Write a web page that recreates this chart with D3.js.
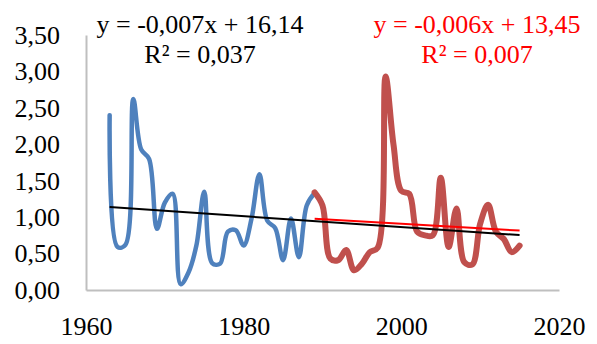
<!DOCTYPE html>
<html>
<head>
<meta charset="utf-8">
<script src="https://cdn.jsdelivr.net/npm/d3@7"></script>
<style>
  body { margin: 0; background: #fff; }
  text { font-family: "Liberation Serif", "Times New Roman", serif; }
</style>
</head>
<body>
<script>
// values
const blueYears = d3.range(1963, 1990);
const blueValues = [2.40, 0.59, 0.62, 2.62, 1.93, 1.80, 0.84, 1.20, 1.32, 0.08,
  0.24, 0.61, 1.35, 0.37, 0.36, 0.80, 0.82, 0.61, 0.98, 1.59,
  0.95, 0.85, 0.41, 0.98, 0.45, 1.16, 1.33];
const redYears = d3.range(1989, 2016);
const redValues = [1.34, 1.16, 0.43, 0.41, 0.55, 0.27, 0.36, 0.52, 0.58, 2.93,
  2.00, 1.36, 1.32, 0.80, 0.75, 0.75, 1.54, 0.59, 1.12, 0.38,
  0.35, 0.91, 1.17, 0.80, 0.70, 0.52, 0.61];
const xTicks = [1960, 1980, 2000, 2020];
const yTicks = [0, 0.5, 1, 1.5, 2, 2.5, 3, 3.5];
const allLabel = ['y = -0,007x + 16,14', 'R² = 0,037'];
const redLabel = ['y = -0,006x + 13,45', 'R² = 0,007'];

const width = 597, height = 344;
const svg = d3.select('body').append('svg')
  .attr('width', width)
  .attr('height', height);

const x = d3.scaleLinear().domain([1960, 2020]).range([86, 559]);
const y = d3.scaleLinear().domain([0, 3.5]).range([290, 35]);

const fmt = v => d3.format('.2f')(v).replace('.', ',');

// axes
const yAxis = svg.append('g')
  .attr('transform', 'translate(86,0)')
  .call(d3.axisLeft(y).tickValues(yTicks).tickFormat(fmt).tickSize(0).tickPadding(26));
yAxis.select('.domain').attr('stroke', '#bfbfbf').attr('stroke-width', 2);
yAxis.selectAll('.tick text').style('font-size', '26px').attr('fill', '#000');

const xAxis = svg.append('g')
  .attr('transform', 'translate(0,290)')
  .call(d3.axisBottom(x).tickValues(xTicks).tickFormat(d3.format('d')).tickSize(0).tickPadding(27));
xAxis.select('.domain').attr('stroke', '#bfbfbf').attr('stroke-width', 2);
xAxis.selectAll('.tick text').style('font-size', '26px').attr('fill', '#000');

// series
const blueData = blueYears.map((yr, i) => [yr, blueValues[i]]);
const redData = redYears.map((yr, i) => [yr, redValues[i]]);

const line = d3.line()
  .x(d => x(d[0]))
  .y(d => y(d[1]))
  .curve(d3.curveCatmullRom.alpha(0.5));

svg.append('path').datum(blueData)
  .attr('d', line)
  .attr('fill', 'none')
  .attr('stroke', '#4f81bd')
  .attr('stroke-width', 4.5)
  .attr('stroke-linejoin', 'round')
  .attr('stroke-linecap', 'round');

svg.append('path').datum(redData)
  .attr('d', line)
  .attr('fill', 'none')
  .attr('stroke', '#c0504d')
  .attr('stroke-width', 6)
  .attr('stroke-linejoin', 'round')
  .attr('stroke-linecap', 'round');

// linear trend lines
function fit(data) {
  const mx = d3.mean(data, d => d[0]);
  const my = d3.mean(data, d => d[1]);
  const b = d3.sum(data, d => (d[0] - mx) * (d[1] - my)) / d3.sum(data, d => (d[0] - mx) ** 2);
  const a = my - b * mx;
  const x0 = d3.min(data, d => d[0]), x1 = d3.max(data, d => d[0]);
  return [[x0, a + b * x0], [x1, a + b * x1]];
}

const allData = blueData.concat(redData.slice(1));
const straight = d3.line().x(d => x(d[0])).y(d => y(d[1]));

svg.append('path').datum(fit(allData))
  .attr('d', straight)
  .attr('stroke', '#000')
  .attr('stroke-width', 2);

svg.append('path').datum(fit(redData))
  .attr('d', straight)
  .attr('stroke', '#ff0000')
  .attr('stroke-width', 2);

// equation labels
function label(lines, cx, color) {
  const t = svg.append('text')
    .attr('text-anchor', 'middle')
    .attr('fill', color)
    .style('font-size', '26px');
  lines.forEach((s, i) => {
    t.append('tspan').attr('x', cx).attr('y', 33 + i * 30).text(s);
  });
}
label(allLabel, 200, '#000');
label(redLabel, 477, '#ff0000');
</script>
</body>
</html>
